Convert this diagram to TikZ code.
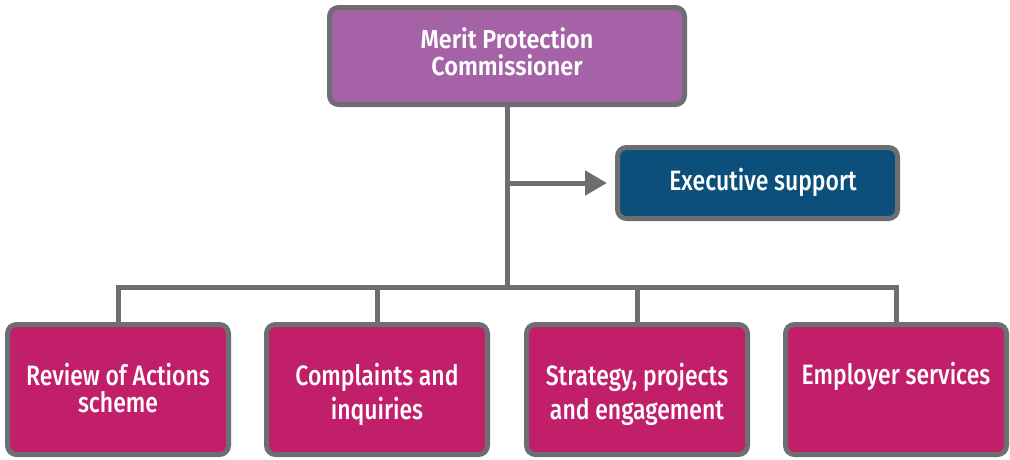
\documentclass[tikz,border=0pt]{standalone}
\usepackage{fontspec}
\newfontfamily\unitfont{Fira Sans}[UprightFont={* Medium}, FakeStretch=0.82]
\newfontfamily\titlefont{Fira Sans}[UprightFont={* SemiBold}, FakeStretch=0.9]
\usetikzlibrary{arrows.meta}
\definecolor{linegray}{HTML}{6D6E71}
\definecolor{headpurple}{HTML}{A562A6}
\definecolor{execblue}{HTML}{0B4F7A}
\definecolor{unitmagenta}{HTML}{C21F6B}
% keep line spacing exactly at the baselineskip of each box
\AtBeginDocument{\setlength{\lineskiplimit}{-100pt}}
\tikzset{
  orgbox/.style={draw=linegray, line width=5pt, rounded corners=9pt,
    text=white, align=center, inner sep=0pt, text depth=0pt},
  unitbox/.style={orgbox, fill=unitmagenta, minimum width=221pt, minimum height=130pt},
  lines/.style={font=\unitfont\fontsize{28}{#1}\selectfont},
  conn/.style={draw=linegray, line width=5pt}
}
\begin{document}
\begin{tikzpicture}[x=1pt,y=-1pt]
  \useasboundingbox (0,0) rectangle (1010,459);
  % head of the office
  \node[orgbox, fill=headpurple, minimum width=355pt, minimum height=97pt,
        font=\titlefont\fontsize{26}{27}\selectfont,
        text height=38pt] (head) at (507,56)
        {Merit Protection\\Commissioner};
  % support unit on the side
  \node[orgbox, fill=execblue, minimum width=280pt, minimum height=71pt,
        lines=28, text height=14pt] (exec) at (757.5,183)
        {\hspace*{11pt}Executive support};
  % the four business units
  \node[unitbox, lines=27, text height=45pt] (u1) at (118,389.5) {Review of Actions\\scheme};
  \node[unitbox, lines=34, text height=59pt] (u2) at (377,389.5) {Complaints and\\inquiries};
  \node[unitbox, lines=34, text height=59pt] (u3) at (637,389.5) {Strategy, projects\\and engagement};
  \node[unitbox, lines=28, text height=0pt, text depth=11pt] (u4) at (896,389.5) {Employer services};
  % connectors
  \coordinate (bus) at (0,287);
  \draw[conn] (head.south) -- (head.south |- bus);
  \draw[conn, line cap=rect] (u1.north |- bus) -- (u4.north |- bus);
  \foreach \u in {u1,u2,u3,u4} {
    \draw[conn] (\u.north) -- (\u.north |- bus);
  }
  \draw[conn, -{Triangle[length=22pt,width=24pt]}] (head.south |- exec.west) -- ([xshift=-8pt]exec.west);
\end{tikzpicture}
\end{document}
